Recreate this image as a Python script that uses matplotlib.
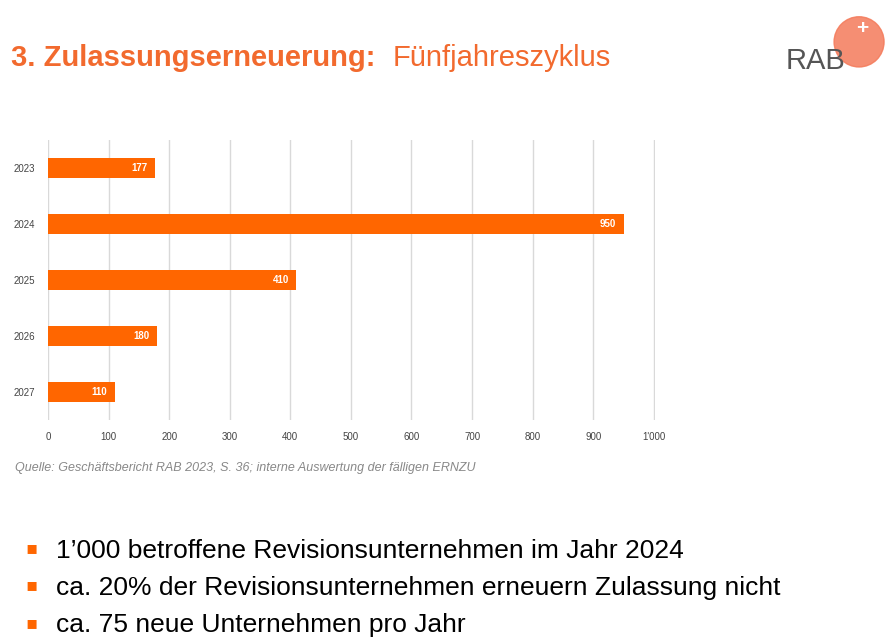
import matplotlib

matplotlib.use("Agg")
import matplotlib.pyplot as plt
from matplotlib.patches import Ellipse

years = ["2023", "2024", "2025", "2026", "2027"]
values = [177, 950, 410, 180, 110]
xticks = [0, 100, 200, 300, 400, 500, 600, 700, 800, 900, 1000]
xlabels = ["0", "100", "200", "300", "400", "500", "600", "700", "800", "900", "1'000"]
bullets = [
    "1’000 betroffene Revisionsunternehmen im Jahr 2024",
    "ca. 20% der Revisionsunternehmen erneuern Zulassung nicht",
    "ca. 75 neue Unternehmen pro Jahr",
]

ORANGE = "#ff6600"
TITLE = "#f26a2e"
plt.rcParams["font.family"] = ["Liberation Sans", "DejaVu Sans"]

fig = plt.figure(figsize=(8.93, 6.44), dpi=100)
ax = fig.add_axes([0.0538, 0.348, 0.6797, 0.435])
ys = list(range(len(years)))
ax.barh(ys, values, height=0.36, color=ORANGE, zorder=3)
for y, v in zip(ys, values):
    ax.text(v - 12, y, str(v), ha="right", va="center", color="white",
            fontsize=7, fontweight="bold", zorder=4)
ax.set_yticks(ys)
ax.set_yticklabels(years, fontsize=7, color="#444444")
ax.set_ylim(4.5, -0.5)
ax.set_xlim(0, 1002)
ax.set_xticks(xticks)
ax.set_xticklabels(xlabels, fontsize=7, color="#444444")
ax.grid(axis="x", color="#d9d9d9", lw=1, zorder=0)
ax.tick_params(length=0, pad=9)
for s in ax.spines.values():
    s.set_visible(False)

fig.text(0.012, 0.91, "3. Zulassungserneuerung:", color=TITLE, fontsize=21,
         fontweight="bold", va="center")
fig.text(0.44, 0.91, "Fünfjahreszyklus", color=TITLE, fontsize=21, va="center")

fig.text(0.017, 0.273, "Quelle: Geschäftsbericht RAB 2023, S. 36; interne Auswertung der fälligen ERNZU",
         fontsize=9, style="italic", color="#888888", va="center")

for i, b in enumerate(bullets):
    yy = 0.145 - i * 0.058
    fig.text(0.028, yy + 0.004, "▪", color=ORANGE, fontsize=13, va="center", family="DejaVu Sans")
    fig.text(0.063, yy, b, fontsize=19, color="black", va="center")

# logo
fig.patches.append(Ellipse((0.962, 0.935), 0.056, 0.078, transform=fig.transFigure,
                           color="#f47a5a", alpha=0.85))
fig.text(0.966, 0.955, "+", color="white", fontsize=15, fontweight="bold",
         ha="center", va="center")
fig.text(0.88, 0.905, "RAB", color="#555555", fontsize=21, va="center")

fig.savefig("out.png", dpi=100)
